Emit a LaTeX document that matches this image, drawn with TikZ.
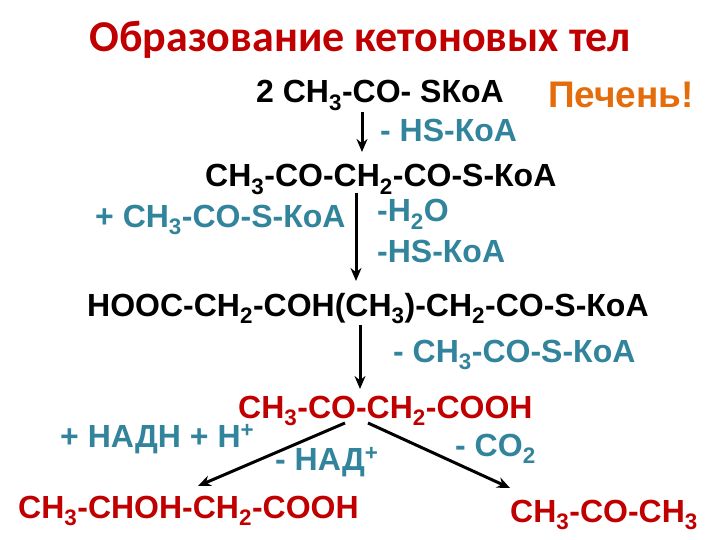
\documentclass[tikz,border=0pt]{standalone}
\usepackage{fontspec}
\usetikzlibrary{arrows.meta}
\setmainfont{Liberation Sans}
\newfontfamily\titlefont{Carlito}
\definecolor{tred}{HTML}{C00000}
\definecolor{teal2}{HTML}{31849B}
\definecolor{orng}{HTML}{E46C0A}
\newcommand{\sbs}[1]{\textsubscript{#1}}
\newcommand{\sps}[1]{\textsuperscript{#1}}
\begin{document}
\begin{tikzpicture}[x=1pt,y=-1pt,
  t/.style={anchor=base west,inner sep=0pt,font=\fontsize{32}{36}\selectfont\bfseries},
  arr/.style={-{Stealth[length=13pt,width=11pt]},line width=3pt,black}]
\useasboundingbox (0,0) rectangle (720,540);
\node[anchor=base,inner sep=0pt,font=\titlefont\fontsize{44}{48}\selectfont\bfseries,text=tred] (title) at (360,52) {Образование кетоновых тел};
\node[t] (a) at (256,103) {2 CH\sbs{3}-CO- SКоА};
\node[t,text=orng,font=\fontsize{37}{40}\selectfont\bfseries] (liver) at (548,108) {Печень!};
\node[t,text=teal2] (l1) at (380,142) {- HS-КоА};
\node[t] (b) at (205,187) {CH\sbs{3}-CO-CH\sbs{2}-CO-S-КоА};
\node[t,text=teal2] (l2) at (95,227) {+ CH\sbs{3}-CO-S-КоА};
\node[t,text=teal2] (l3) at (377,222) {-H\sbs{2}O};
\node[t,text=teal2] (l4) at (377,262) {-HS-КоА};
\node[t] (c) at (87,316) {HOOC-CH\sbs{2}-COH(CH\sbs{3})-CH\sbs{2}-CO-S-КоА};
\node[t,text=teal2] (l5) at (393,362) {- CH\sbs{3}-CO-S-КоА};
\node[t,text=tred] (d) at (238,418) {CH\sbs{3}-CO-CH\sbs{2}-COOH};
\node[t,text=teal2] (l6) at (60,447) {+ НАДН + Н\sps{+}};
\node[t,text=teal2] (l7) at (275,470) {- НАД\sps{+}};
\node[t,text=teal2] (l8) at (455,456) {- CO\sbs{2}};
\node[t,text=tred] (e) at (18,518) {CH\sbs{3}-CHOH-CH\sbs{2}-COOH};
\node[t,text=tred] (f) at (510,522) {CH\sbs{3}-CO-CH\sbs{3}};
\coordinate (a1) at (362,112); \coordinate (a2) at (362,152);
\coordinate (b1) at (356,193); \coordinate (b2) at (356,281);
\coordinate (c1) at (360,325); \coordinate (c2) at (360,389);
\coordinate (d1) at (345,423); \coordinate (d2) at (198,486);
\coordinate (d3) at (368,423); \coordinate (d4) at (510,488);
\draw[arr] (a1) -- (a2);
\draw[arr] (b1) -- (b2);
\draw[arr] (c1) -- (c2);
\draw[arr] (d1) -- (d2);
\draw[arr] (d3) -- (d4);
\end{tikzpicture}
\end{document}
